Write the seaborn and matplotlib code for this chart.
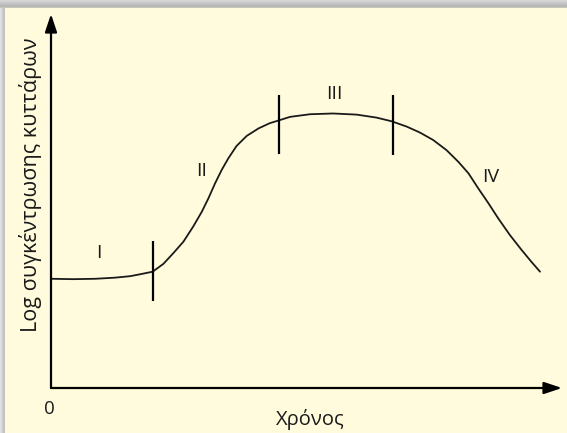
import matplotlib
matplotlib.use("Agg")
import matplotlib.pyplot as plt
from matplotlib.patches import Rectangle
import pandas as pd
import seaborn as sns

# Growth curve: time (arbitrary units) vs log cell concentration
time = [0.02, 0.43, 0.86, 1.25, 1.55, 1.74, 1.99, 2.20, 2.39, 2.59, 2.78, 2.95,
        3.08, 3.21, 3.34, 3.47, 3.63, 3.83, 4.06, 4.28, 4.47, 4.68, 5.07, 5.52,
        5.98, 6.37, 6.67, 6.96, 7.22, 7.48, 7.74, 7.97, 8.17, 8.36, 8.56, 8.75,
        8.98, 9.21, 9.41, 9.57]
log_conc = [2.92, 2.91, 2.92, 2.95, 2.99, 3.04, 3.11, 3.32, 3.60, 3.91, 4.31, 4.71,
            5.07, 5.47, 5.83, 6.14, 6.47, 6.74, 6.94, 7.08, 7.16, 7.25, 7.32, 7.34,
            7.31, 7.23, 7.13, 6.99, 6.83, 6.63, 6.36, 6.05, 5.74, 5.34, 4.94, 4.54,
            4.09, 3.69, 3.36, 3.11]

# Phase boundaries (short vertical ticks across the curve)
boundary_t = [2.00, 4.46, 6.69]
boundary_lo = [2.33, 6.26, 6.23]
boundary_hi = [3.93, 7.83, 7.83]

# Phase labels
phase_names = ["I", "II", "III", "IV"]
phase_t = [0.93, 2.95, 5.54, 8.61]
phase_v = [3.60, 5.81, 7.85, 5.65]

x_title = "Χρόνος"
y_title = "Log συγκέντρωσης κυττάρων"

sns.set_theme(style="white")
plt.rcParams["font.family"] = ["Open Sans", "DejaVu Sans"]

bg = "#FFFBDC"
ink = "#1a1a1a"
W, H = 567, 433
fig = plt.figure(figsize=(W / 100, H / 100), dpi=100)
fig.patch.set_facecolor(bg)

# Soft grey frame shadow along the top and left edges
def px_rect(x0, y0, w, h, color):
    fig.add_artist(Rectangle((x0 / W, 1 - (y0 + h) / H), w / W, h / H,
                             transform=fig.transFigure, facecolor=color,
                             edgecolor="none", zorder=-10))

top_greys = ["#d6d6d6", "#d0d0d0", "#cacaca", "#c4c4c4", "#bebebe", "#b9b9b9", "#b6b6b6", "#c8c6bc"]
for i, g in enumerate(top_greys):
    px_rect(0, i, W, 1, g)
left_greys = ["#e2e2e2", "#d8d8d8", "#cfcfcf", "#c6c6c6", "#c2c1bb"]
for i, g in enumerate(left_greys):
    px_rect(i, 8, 1, H - 8, g)

ax = fig.add_axes([51 / W, 1 - 388 / H, (562 - 51) / W, (388 - 14) / H])
ax.set_facecolor("none")

df = pd.DataFrame({"time": time, "log_conc": log_conc})
sns.lineplot(data=df, x="time", y="log_conc", ax=ax, color=ink, linewidth=1.3,
             estimator=None, sort=False, solid_joinstyle="round",
             solid_capstyle="round")

ax.vlines(boundary_t, boundary_lo, boundary_hi, colors="black", linewidth=1.6)

for name, t, v in zip(phase_names, phase_t, phase_v):
    ax.text(t, v, name, ha="center", va="center", fontsize=14, color=ink)

ax.set_xlim(0, 10)
ax.set_ylim(0, 10)
ax.set_xticks([])
ax.set_yticks([])
for s in ax.spines.values():
    s.set_visible(False)

# Axes drawn as arrows
arrow = dict(arrowstyle="-|>,head_length=0.9,head_width=0.3", color="black",
             linewidth=1.6, shrinkA=0, shrinkB=0)
ax.annotate("", xy=(1, 0), xytext=(0, 0), xycoords="axes fraction",
            textcoords="axes fraction", arrowprops=arrow)
ax.annotate("", xy=(0, 1), xytext=(0, 0), xycoords="axes fraction",
            textcoords="axes fraction", arrowprops=arrow)

ax.text(-0.004, -0.056, "0", transform=ax.transAxes, ha="center", va="center",
        fontsize=13.5, color=ink)

ax.set_xlabel(x_title, fontsize=14.5, color=ink)
ax.xaxis.set_label_coords(0.507, -0.083)
ax.xaxis.label.set_va("center")
ax.set_ylabel(y_title, fontsize=15.5, color=ink)
ax.yaxis.set_label_coords(-0.041, 0.543)
ax.yaxis.label.set_va("center")

fig.savefig("out.png", dpi=100, facecolor=bg)
